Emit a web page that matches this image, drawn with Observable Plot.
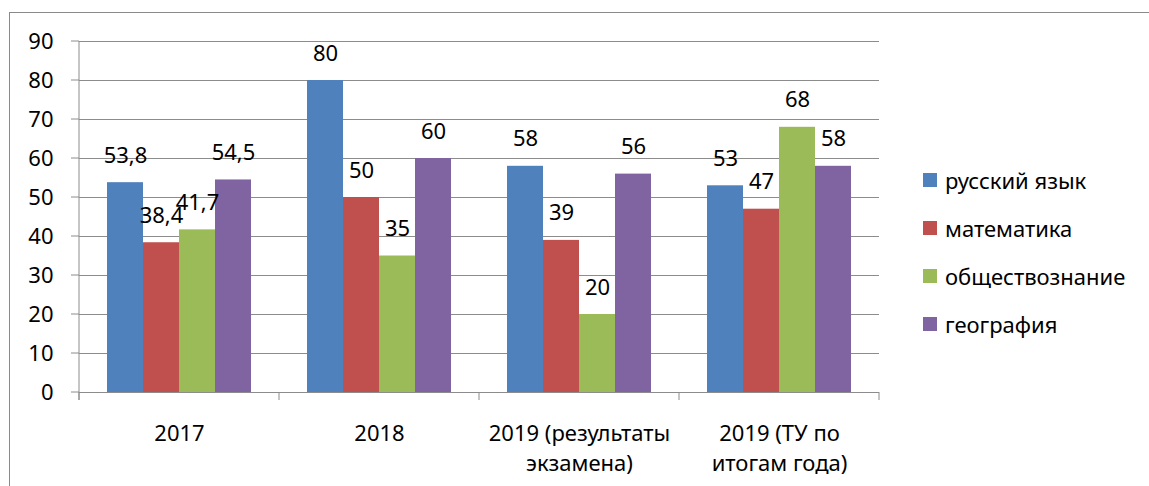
<!DOCTYPE html>
<html>
<head>
<meta charset="utf-8">
<script src="https://cdn.jsdelivr.net/npm/d3@7"></script>
<script src="https://cdn.jsdelivr.net/npm/@observablehq/plot@0.6"></script>
<style>
  html, body { margin: 0; padding: 0; background: #fff; overflow: hidden; }
  #wrap { position: relative; width: 1149px; height: 486px; overflow: hidden; font-family: "Noto Sans", sans-serif; }
  #border { position: absolute; left: 9px; top: 12px; width: 1200px; height: 520px; border: 1px solid #8a8a8a; box-sizing: border-box; }
  #chart { position: absolute; left: 0; top: 0; }
  #legend { position: absolute; left: 923px; top: 156px; }
  .row { display: flex; align-items: center; height: 48px; font-size: 22px; color: #000; }
  .sw { width: 14px; height: 14px; margin-right: 8px; }
</style>
</head>
<body>
<div id="wrap">
  <div id="border"></div>
  <div id="chart"></div>
  <div id="legend"></div>
</div>
<script>
const years = ["2017", "2018", "2019 (результаты экзамена)", "2019 (ТУ по итогам года)"];
const yearLabels = ["2017", "2018", "2019 (результаты\nэкзамена)", "2019 (ТУ по\nитогам года)"];
const subjects = ["русский язык", "математика", "обществознание", "география"];
const colors = ["#4F81BD", "#C0504D", "#9BBB59", "#8064A2"];
const russian = [53.8, 80, 58, 53];
const math = [38.4, 50, 39, 47];
const social = [41.7, 35, 20, 68];
const geography = [54.5, 60, 56, 58];
const yTicks = [0, 10, 20, 30, 40, 50, 60, 70, 80, 90];

const series = [russian, math, social, geography];
const data = [];
years.forEach((yr, i) => {
  subjects.forEach((s, j) => data.push({year: yr, subject: s, value: series[j][i], label: yearLabels[i]}));
});
const fmt = v => String(v).replace(".", ",");
const gray = "#8c8c8c";
const FS = 22;

const plot = Plot.plot({
  width: 1149,
  height: 486,
  marginLeft: 78,
  marginRight: 269,
  marginTop: 41,
  marginBottom: 94,
  style: {fontFamily: "Noto Sans", fontSize: FS + "px", color: "#000", background: "transparent"},
  fx: {domain: years, padding: 0, axis: null},
  x: {domain: subjects, paddingInner: 0, paddingOuter: 0.76, axis: null},
  y: {domain: [0, 90], ticks: yTicks, tickSize: 0, tickPadding: 26, label: null},
  color: {domain: subjects, range: colors},
  marks: [
    Plot.ruleY(yTicks, {stroke: gray, strokeWidth: 1}),
    Plot.barY(data, {fx: "year", x: "subject", y: "value", fill: "subject"}),
    Plot.text(data, {fx: "year", x: "subject", y: "value", text: d => fmt(d.value), dy: -27, fontSize: FS, fill: "#000"}),
    Plot.text(data.filter(d => d.subject === subjects[0]), {fx: "year", text: "label", frameAnchor: "bottom", lineAnchor: "top", dy: 27, lineHeight: 1.36, fontSize: FS, fill: "#000"})
  ]
});

const svg = d3.select(plot);
svg.selectAll("text").attr("font-size", FS).attr("fill", "#000").style("font-family", "Noto Sans");
const fx = plot.scale("fx");
const ys = plot.scale("y");
const y0 = ys.apply(0), yTop = ys.apply(90);
const x0 = fx.apply(years[0]);
const g = svg.append("g").attr("stroke", gray).attr("stroke-width", 1);
g.append("line").attr("x1", x0).attr("x2", x0).attr("y1", yTop).attr("y2", y0 + 8);
yTicks.forEach(t => g.append("line").attr("x1", x0 - 8).attr("x2", x0).attr("y1", ys.apply(t)).attr("y2", ys.apply(t)));
const bounds = years.map(yv => fx.apply(yv)).concat([fx.apply(years[years.length - 1]) + fx.bandwidth]);
bounds.forEach(b => g.append("line").attr("x1", b).attr("x2", b).attr("y1", y0).attr("y2", y0 + 8));

document.getElementById("chart").appendChild(plot);

const legend = document.getElementById("legend");
subjects.forEach((s, i) => {
  const row = document.createElement("div");
  row.className = "row";
  const sw = document.createElement("div");
  sw.className = "sw";
  sw.style.background = colors[i];
  const t = document.createElement("span");
  t.textContent = s;
  row.appendChild(sw);
  row.appendChild(t);
  legend.appendChild(row);
});
</script>
</body>
</html>
